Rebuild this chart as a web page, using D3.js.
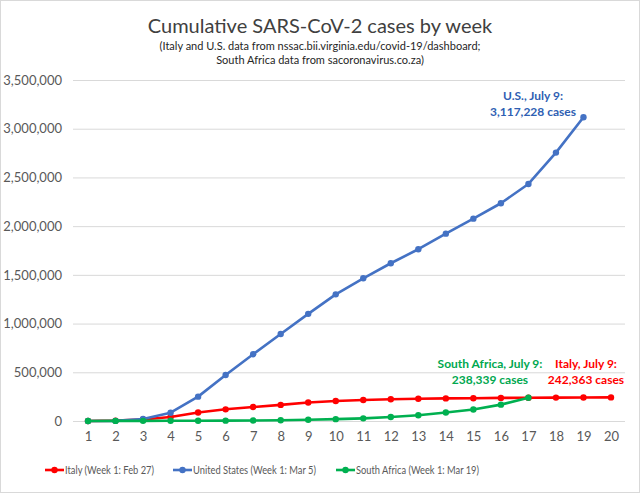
<!DOCTYPE html>
<html>
<head>
<meta charset="utf-8">
<script src="https://cdn.jsdelivr.net/npm/d3@7"></script>
<style>
  body { margin: 0; background: #fff; }
  svg { display: block; font-family: Lato, "Open Sans", sans-serif; }
</style>
</head>
<body>
<div id="chart"></div>
<script>
// week numbers on the x axis
const weeks = d3.range(1, 21);
// cumulative cases
const italyCases = [650, 3858, 15113, 41035, 86498, 119827, 143626, 165155, 189973, 205463,
  215858, 223096, 228006, 231732, 234013, 236989, 238159, 239961, 240961, 242363];
const usCases = [220, 1700, 20000, 85000, 250000, 472000, 685000, 893000, 1100000, 1300000,
  1465000, 1619000, 1763000, 1923000, 2077000, 2235000, 2433000, 2755000, 3117228];
const saCases = [150, 927, 1462, 1934, 2605, 3635, 5647, 8232, 12074, 19137,
  27403, 40792, 58568, 87715, 118375, 168061, 238339];
const yTicks = [0, 500000, 1000000, 1500000, 2000000, 2500000, 3000000, 3500000];

const seriesNames = ["Italy (Week 1: Feb 27)", "United States (Week 1: Mar 5)", "South Africa (Week 1: Mar 19)"];
const seriesColors = ["#ff0000", "#4472c4", "#00b050"];

const series = [italyCases, usCases, saCases].map((vals, i) => ({
  name: seriesNames[i],
  color: seriesColors[i],
  values: vals.map((v, j) => ({ week: weeks[j], cases: v }))
}));

const W = 640, H = 493;
const svg = d3.select("#chart").append("svg")
    .attr("width", W)
    .attr("height", H);

svg.append("rect")
    .attr("x", 0.5).attr("y", 0.5)
    .attr("width", W - 1).attr("height", H - 1)
    .attr("fill", "#fff")
    .attr("stroke", "#d9d9d9");

const x = d3.scaleLinear().domain([1, 20]).range([88, 611]);
const y = d3.scaleLinear().domain([0, 3500000]).range([421, 80]);

// Title
svg.append("text")
    .attr("x", 320).attr("y", 33)
    .attr("text-anchor", "middle")
    .attr("font-size", 20)
    .attr("fill", "#404040")
    .text("Cumulative SARS-CoV-2 cases by week");

svg.selectAll(".sub")
    .data(["(Italy and U.S. data from nssac.bii.virginia.edu/covid-19/dashboard;",
           "South Africa data from sacoronavirus.co.za)"])
    .enter().append("text")
    .attr("class", "sub")
    .attr("x", 320)
    .attr("y", (d, i) => 50 + i * 14)
    .attr("text-anchor", "middle")
    .attr("font-size", 11)
    .attr("fill", "#262626")
    .text(d => d);

// Gridlines + y axis
const yAxis = d3.axisLeft(y)
    .tickValues(yTicks)
    .tickSize(-(625 - 73))
    .tickFormat(d3.format(","));

svg.append("g")
    .attr("transform", "translate(73,0)")
    .call(yAxis)
    .call(g => g.select(".domain").remove())
    .call(g => g.selectAll("line").attr("stroke", "#d9d9d9").attr("stroke-width", 1))
    .call(g => g.selectAll("text")
        .attr("x", -11)
        .attr("font-size", 13)
        .attr("font-family", "Lato, sans-serif")
        .attr("fill", "#595959"));

// x axis labels
const xAxis = d3.axisBottom(x).tickValues(weeks).tickSize(0).tickFormat(d3.format("d"));
svg.append("g")
    .attr("transform", "translate(0,421)")
    .call(xAxis)
    .call(g => g.select(".domain").remove())
    .call(g => g.selectAll("text")
        .attr("y", 11)
        .attr("font-size", 13)
        .attr("font-family", "Lato, sans-serif")
        .attr("fill", "#595959"));

// Lines
const line = d3.line().x(d => x(d.week)).y(d => y(d.cases));

const sg = svg.selectAll(".series")
    .data(series)
    .enter().append("g")
    .attr("class", "series");

sg.append("path")
    .attr("d", d => line(d.values))
    .attr("fill", "none")
    .attr("stroke", d => d.color)
    .attr("stroke-width", 2.6)
    .attr("stroke-linejoin", "round");

sg.selectAll("circle")
    .data(d => d.values.map(v => ({ ...v, color: d.color })))
    .enter().append("circle")
    .attr("cx", d => x(d.week))
    .attr("cy", d => y(d.cases))
    .attr("r", 3.2)
    .attr("fill", d => d.color);

// Annotations
const notes = [
  { lines: ["U.S., July 9:", "3,117,228 cases"], cx: 533, y: 100, color: "#2f5fb3" },
  { lines: ["South Africa, July 9:", "238,339 cases"], cx: 490, y: 368, color: "#00a84f" },
  { lines: ["Italy, July 9:", "242,363 cases"], cx: 586, y: 368, color: "#ff0000" }
];
notes.forEach(n => {
  svg.append("g").selectAll("text")
    .data(n.lines)
    .enter().append("text")
    .attr("x", n.cx)
    .attr("y", (d, i) => n.y + i * 16)
    .attr("text-anchor", "middle")
    .attr("font-size", 12)
    .attr("font-weight", "bold")
    .attr("fill", n.color)
    .text(d => d);
});

// Legend
const legendX = [45, 173, 336];
const legendW = [89, 123, 123];
const lg = svg.selectAll(".legend")
    .data(series)
    .enter().append("g")
    .attr("class", "legend")
    .attr("transform", (d, i) => `translate(${legendX[i]},470)`);

lg.append("line")
    .attr("x1", 0).attr("x2", 19)
    .attr("stroke", d => d.color)
    .attr("stroke-width", 2.6);
lg.append("circle")
    .attr("cx", 9.5).attr("r", 3.2)
    .attr("fill", d => d.color);
lg.append("text")
    .attr("x", 20)
    .attr("dy", "0.35em")
    .attr("font-size", 11)
    .attr("fill", "#595959")
    .attr("textLength", (d, i) => legendW[i])
    .attr("lengthAdjust", "spacingAndGlyphs")
    .text(d => d.name);
</script>
</body>
</html>
